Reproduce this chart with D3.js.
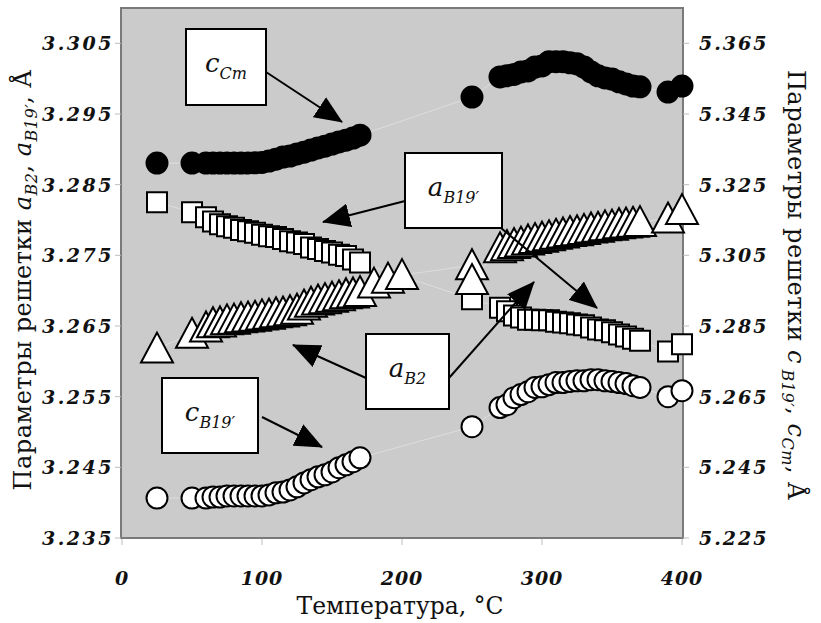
<!DOCTYPE html>
<html>
<head>
<meta charset="utf-8">
<script src="https://cdn.jsdelivr.net/npm/d3@7"></script>
<style>
  body { margin: 0; background: #fff; }
  text { font-family: "DejaVu Serif", serif; fill: #111; }
</style>
</head>
<body>
<svg id="chart" width="821" height="623"></svg>
<script>
// temperatures, °C
const tLow = [25, 50, 60, 65, 70, 75, 80, 85, 90, 95, 100, 105, 110, 115, 120, 125, 130, 135, 140, 145, 150, 155, 160, 165, 170];
const tLowB2 = [25, 50, 60, 65, 70, 75, 80, 85, 90, 95, 100, 105, 110, 115, 120, 125, 130, 135, 140, 145, 150, 155, 160, 165, 170, 180, 190, 200];
const tHigh = [250, 270, 275, 280, 285, 290, 295, 300, 305, 310, 315, 320, 325, 330, 335, 340, 345, 350, 355, 360, 365, 370, 390, 400];
const tHighB2 = [250, 250, 270, 275, 280, 285, 290, 295, 300, 305, 310, 315, 320, 325, 330, 335, 340, 345, 350, 355, 360, 365, 370, 390, 400];

// c Cm (right axis)
const cCmLow = [5.3311, 5.3311, 5.3311, 5.3311, 5.3311, 5.3311, 5.3311, 5.3311, 5.3311, 5.3312, 5.3313, 5.3317, 5.3322, 5.3328, 5.3331, 5.3337, 5.3342, 5.3348, 5.3354, 5.3359, 5.3365, 5.3371, 5.3376, 5.3382, 5.3390];
const cCmHigh = [5.3498, 5.3555, 5.3558, 5.3562, 5.3569, 5.3572, 5.3583, 5.3586, 5.3598, 5.3598, 5.3598, 5.3595, 5.3592, 5.3583, 5.3569, 5.3558, 5.3552, 5.3549, 5.3541, 5.3535, 5.3529, 5.3527, 5.3512, 5.3529];
// a B19' (left axis)
const aB19Low = [3.2825, 3.2811, 3.2804, 3.2798, 3.2794, 3.2791, 3.2789, 3.2786, 3.2784, 3.2782, 3.2779, 3.2777, 3.2776, 3.2773, 3.2770, 3.2768, 3.2766, 3.2761, 3.2759, 3.2756, 3.2754, 3.2751, 3.2749, 3.2744, 3.2740];
const aB19High = [3.2688, 3.2676, 3.2671, 3.2665, 3.2662, 3.2659, 3.2659, 3.2658, 3.2658, 3.2656, 3.2655, 3.2654, 3.2652, 3.2651, 3.2648, 3.2645, 3.2644, 3.2641, 3.2638, 3.2635, 3.2632, 3.2629, 3.2614, 3.2624];
// a B2 (left axis)
const aB2Low = [3.2618, 3.2639, 3.2648, 3.2654, 3.2655, 3.2658, 3.2659, 3.2661, 3.2662, 3.2663, 3.2665, 3.2666, 3.2668, 3.2669, 3.2671, 3.2673, 3.2679, 3.2683, 3.2686, 3.2688, 3.2690, 3.2692, 3.2695, 3.2696, 3.2698, 3.2710, 3.2717, 3.2722];
const aB2High = [3.2736, 3.2715, 3.2760, 3.2763, 3.2766, 3.2768, 3.2771, 3.2773, 3.2775, 3.2777, 3.2779, 3.2781, 3.2783, 3.2784, 3.2786, 3.2788, 3.2789, 3.2791, 3.2792, 3.2794, 3.2795, 3.2796, 3.2797, 3.2802, 3.2814];
// c B19' (right axis)
const cB19Low = [5.2363, 5.2363, 5.2363, 5.2366, 5.2366, 5.2369, 5.2369, 5.2369, 5.2369, 5.2369, 5.2369, 5.2372, 5.2378, 5.2380, 5.2386, 5.2395, 5.2406, 5.2415, 5.2423, 5.2429, 5.2437, 5.2449, 5.2457, 5.2466, 5.2477];
const cB19High = [5.2565, 5.2619, 5.2627, 5.2647, 5.2656, 5.2664, 5.2676, 5.2678, 5.2684, 5.2690, 5.2690, 5.2693, 5.2695, 5.2695, 5.2698, 5.2698, 5.2695, 5.2693, 5.2690, 5.2687, 5.2681, 5.2676, 5.2650, 5.2667];

const xTicks = [0, 100, 200, 300, 400];
const leftTicks = [3.235, 3.245, 3.255, 3.265, 3.275, 3.285, 3.295, 3.305];
const rightTicks = [5.225, 5.245, 5.265, 5.285, 5.305, 5.325, 5.345, 5.365];

const svg = d3.select("#chart");
const L = 122, R = 682, T = 8, B = 538;

const x = d3.scaleLinear().domain([0, 400]).range([L, R]);
const yL = d3.scaleLinear().domain([3.235, 3.310]).range([B, T]);
const yR = d3.scaleLinear().domain([5.225, 5.375]).range([B, T]);

const zip = (ts, vs) => ts.map((t, i) => ({t: t, v: vs[i]}));

const series = [
  {name: "aB19", pts: zip(tLow, aB19Low).concat(zip(tHigh, aB19High)), y: yL, shape: "square", fill: "#fff"},
  {name: "aB2", pts: zip(tLowB2, aB2Low).concat(zip(tHighB2, aB2High)), y: yL, shape: "triangle", fill: "#fff"},
  {name: "cB19", pts: zip(tLow, cB19Low).concat(zip(tHigh, cB19High)), y: yR, shape: "circle", fill: "#fff"},
  {name: "cCm", pts: zip(tLow, cCmLow).concat(zip(tHigh, cCmHigh)), y: yR, shape: "circle", fill: "#000"}
];

// plot area
svg.append("rect")
  .attr("x", L - 1).attr("y", T).attr("width", R - L + 2).attr("height", B - T)
  .attr("fill", "#cbcbcb").attr("stroke", "#7a7a7a").attr("stroke-width", 2);

// faint ticks
const tickG = svg.append("g").attr("stroke", "#bdbdbd").attr("stroke-width", 1);
leftTicks.forEach(v => tickG.append("line").attr("x1", L - 7).attr("x2", L - 1).attr("y1", yL(v)).attr("y2", yL(v)));
rightTicks.forEach(v => tickG.append("line").attr("x1", R + 1).attr("x2", R + 7).attr("y1", yR(v)).attr("y2", yR(v)));
xTicks.forEach(t => tickG.append("line").attr("x1", x(t)).attr("x2", x(t)).attr("y1", B + 1).attr("y2", B + 7));

// tick labels
const tickFont = s => s.attr("font-size", 19).attr("font-style", "italic").attr("font-weight", "bold");

svg.append("g").selectAll("text").data(leftTicks).enter().append("text")
  .attr("x", L - 8).attr("y", d => yL(d) + 7)
  .attr("text-anchor", "end").attr("letter-spacing", 2.5)
  .call(tickFont)
  .text(d => d3.format(".3f")(d));

svg.append("g").selectAll("text").data(rightTicks).enter().append("text")
  .attr("x", R + 17).attr("y", d => yR(d) + 7)
  .attr("text-anchor", "start").attr("letter-spacing", 2)
  .call(tickFont)
  .text(d => d3.format(".3f")(d));

svg.append("g").selectAll("text").data(xTicks).enter().append("text")
  .attr("x", d => x(d)).attr("y", 585)
  .attr("text-anchor", "middle").attr("letter-spacing", 1)
  .call(tickFont)
  .text(d => d);

// axis titles
svg.append("text").attr("x", (L + R) / 2 - 2).attr("y", 614)
  .attr("text-anchor", "middle").attr("font-size", 23.5)
  .text("Температура, °C");

function richTitle(g, parts) {
  const t = g.append("text").attr("text-anchor", "middle").attr("font-size", 24).attr("letter-spacing", 0.5);
  parts.forEach(p => {
    const s = t.append("tspan").text(p.s);
    if (p.it) s.attr("font-style", "italic");
    if (p.sub) s.attr("font-size", 16).attr("baseline-shift", "-6");
  });
  return t;
}

richTitle(svg.append("g").attr("transform", "translate(31,280) rotate(-90)"), [
  {s: "Параметры решетки "}, {s: "a", it: true}, {s: "B2", it: true, sub: true},
  {s: ", "}, {s: "a", it: true}, {s: "B19′", it: true, sub: true}, {s: ", Å"}
]);

richTitle(svg.append("g").attr("transform", "translate(788,285) rotate(90)"), [
  {s: "Параметры решетки "}, {s: "c", it: true}, {s: " B19′", it: true, sub: true},
  {s: ", "}, {s: "c", it: true}, {s: "Cm", it: true, sub: true}, {s: ", Å"}
]);

// faint connecting lines
const plot = svg.append("g");
series.forEach(s => {
  plot.append("path")
    .datum(s.pts)
    .attr("fill", "none").attr("stroke", "#dedede").attr("stroke-width", 1)
    .attr("d", d3.line().x(d => x(d.t)).y(d => s.y(d.v)));
});

// markers
series.forEach(s => {
  const g = plot.append("g").attr("stroke", "#000").attr("stroke-width", 2).attr("fill", s.fill);
  const sel = g.selectAll("path").data(s.pts).enter().append("path")
    .attr("transform", d => `translate(${x(d.t)},${s.y(d.v)})`);
  if (s.shape === "square") sel.attr("d", "M-10,-10H10V10H-10Z");
  else if (s.shape === "triangle") sel.attr("d", "M0,-16L16,14H-16Z").attr("stroke-linejoin", "miter");
  else sel.attr("d", d3.symbol(d3.symbolCircle, Math.PI * 10.5 * 10.5)());
});

// annotations
const defs = svg.append("defs");
defs.append("marker").attr("id", "head")
  .attr("viewBox", "0 0 28 24").attr("refX", 27).attr("refY", 12)
  .attr("markerWidth", 28).attr("markerHeight", 24)
  .attr("markerUnits", "userSpaceOnUse").attr("orient", "auto")
  .append("path").attr("d", "M0,0L28,12L0,24Z").attr("fill", "#000");

const notes = [
  {box: [186, 29, 80, 76], main: "c", sub: "Cm", arrows: [[266, 72, 342, 122]]},
  {box: [405, 153, 97, 75], main: "a", sub: "B19′", arrows: [[405, 201, 323, 222], [501, 228, 597, 308]]},
  {box: [366, 334, 83, 75], main: "a", sub: "B2", arrows: [[366, 378, 293, 345], [449, 378, 534, 282]]},
  {box: [162, 378, 96, 75], main: "c", sub: "B19′", arrows: [[262, 417, 322, 447]]}
];

const ann = svg.append("g");
notes.forEach(n => {
  n.arrows.forEach(a => {
    ann.append("line").attr("x1", a[0]).attr("y1", a[1]).attr("x2", a[2]).attr("y2", a[3])
      .attr("stroke", "#000").attr("stroke-width", 2).attr("marker-end", "url(#head)");
  });
  ann.append("rect").attr("x", n.box[0]).attr("y", n.box[1]).attr("width", n.box[2]).attr("height", n.box[3])
    .attr("fill", "#fff").attr("stroke", "#000").attr("stroke-width", 2);
  const t = ann.append("text")
    .attr("x", n.box[0] + n.box[2] / 2).attr("y", n.box[1] + n.box[3] / 2 + 5)
    .attr("text-anchor", "middle").attr("font-style", "italic");
  t.append("tspan").attr("font-size", 26).text(n.main);
  t.append("tspan").attr("font-size", 16).attr("baseline-shift", "-7").text(n.sub);
});
</script>
</body>
</html>
